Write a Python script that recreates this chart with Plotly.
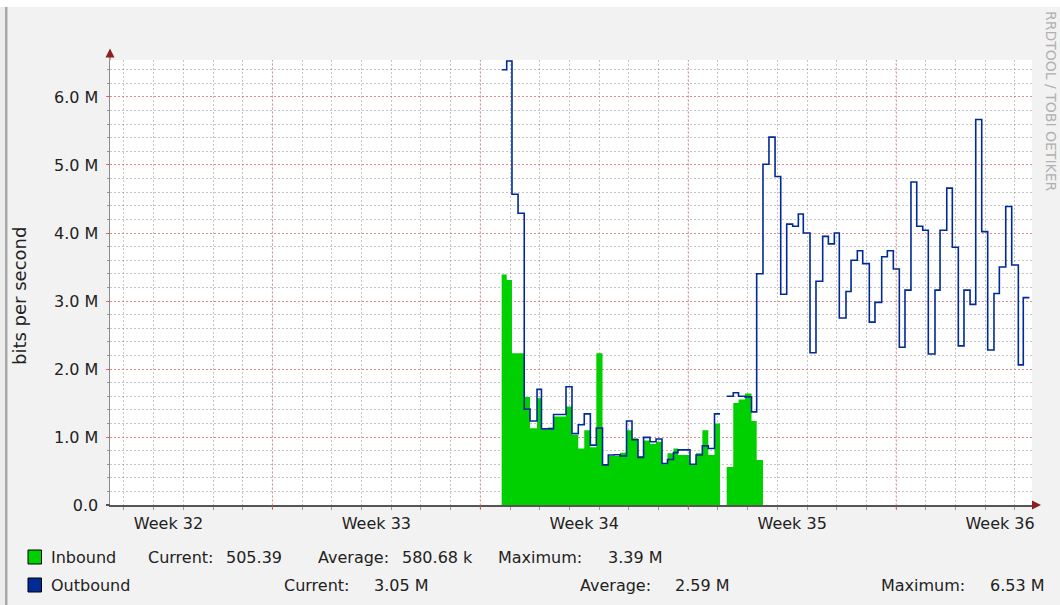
import plotly.graph_objects as go

# ---------------- data ----------------
times = [
    "2013-08-19 17:15", "2013-08-19 21:20",
    "2013-08-20 01:35", "2013-08-20 06:30", "2013-08-20 11:30", "2013-08-20 16:10", "2013-08-20 21:50",
    "2013-08-21 01:25", "2013-08-21 06:40", "2013-08-21 11:10", "2013-08-21 16:25", "2013-08-21 21:15",
    "2013-08-22 02:05", "2013-08-22 07:10", "2013-08-22 12:00", "2013-08-22 16:55", "2013-08-22 21:45",
    "2013-08-23 02:45", "2013-08-23 07:25", "2013-08-23 12:15", "2013-08-23 16:55", "2013-08-23 22:10",
    "2013-08-24 02:35", "2013-08-24 07:25", "2013-08-24 11:55", "2013-08-24 17:10", "2013-08-24 22:00",
    "2013-08-25 02:50", "2013-08-25 07:15", "2013-08-25 12:05", "2013-08-25 15:45", "2013-08-25 20:35",
    "2013-08-26 01:25", "2013-08-26 06:20", "2013-08-26 11:25", "2013-08-26 16:15", "2013-08-26 21:15",
    "2013-08-27 01:40", "2013-08-27 04:05", "2013-08-27 07:05", "2013-08-27 12:25", "2013-08-27 16:40",
    "2013-08-27 21:55",
    "2013-08-28 03:10", "2013-08-28 07:20", "2013-08-28 12:25", "2013-08-28 17:15", "2013-08-28 22:10",
    "2013-08-29 02:45", "2013-08-29 07:35", "2013-08-29 12:25", "2013-08-29 17:00", "2013-08-29 21:00",
    "2013-08-30 02:25", "2013-08-30 07:15", "2013-08-30 12:40", "2013-08-30 17:15", "2013-08-30 22:05",
    "2013-08-31 02:05", "2013-08-31 07:30", "2013-08-31 11:35", "2013-08-31 16:40", "2013-08-31 21:00",
    "2013-09-01 02:20", "2013-09-01 06:55", "2013-09-01 12:20", "2013-09-01 16:55", "2013-09-01 21:45",
    "2013-09-02 02:35", "2013-09-02 07:10", "2013-09-02 12:00", "2013-09-02 16:40", "2013-09-02 21:30",
    "2013-09-03 02:00", "2013-09-03 07:25", "2013-09-03 11:30", "2013-09-03 16:55", "2013-09-03 21:25",
    "2013-09-04 02:15", "2013-09-04 06:50", "2013-09-04 11:45", "2013-09-04 16:20", "2013-09-04 21:10",
    "2013-09-05 02:00", "2013-09-05 07:05", "2013-09-05 11:25", "2013-09-05 16:35", "2013-09-05 21:25",
    "2013-09-06 02:45", "2013-09-06 06:45", "2013-09-06 11:40",
]

# bits per second, in millions
inbound_m = [
    3.39, 3.31, 2.23, 2.23, 1.59, 1.13, 1.57, 1.11, 1.14, 1.30, 1.30, 1.45, 1.03, 0.83, 1.10, 0.85,
    2.23, 0.60, 0.72, 0.72, 0.77, 1.10, 0.98, 0.72, 0.95, 0.90, 0.93, 0.60, 0.76, 0.83, 0.735, 0.735,
    0.60, 0.76, 1.10, 0.735, 1.20, 0.0, 0.0,
    0.56, 1.50, 1.55, 1.64, 1.235, 0.66, 0.0005,
    0.0005, 0.0005, 0.0005, 0.0005, 0.0005, 0.0005, 0.0005, 0.0005, 0.0005, 0.0005,
    0.0005, 0.0005, 0.0005, 0.0005, 0.0005, 0.0005, 0.0005, 0.0005, 0.0005, 0.0005,
    0.0005, 0.0005, 0.0005, 0.0005, 0.0005, 0.0005, 0.0005, 0.0005, 0.0005, 0.0005,
    0.0005, 0.0005, 0.0005, 0.0005, 0.0005, 0.0005, 0.0005, 0.0005, 0.0005, 0.0005,
    0.0005, 0.0005, 0.0005, 0.0005, 0.0005,
]

outbound_m = [
    6.40, 6.53, 4.57, 4.29, 1.41, 1.235, 1.70, 1.12, 1.12, 1.33, 1.33, 1.74, 1.05, 1.18, 1.34, 0.88,
    1.13, 0.59, 0.735, 0.74, 0.72, 1.235, 0.96, 0.70, 0.995, 0.93, 0.97, 0.61, 0.67, 0.77, 0.81, 0.81,
    0.60, 0.735, 0.87, 0.83, 1.34, 1.34, None,
    1.60, 1.65, 1.60, 1.59, 1.37, 3.40, 5.01,
    5.41, 4.83, 3.10, 4.13, 4.10, 4.28, 4.00, 2.24, 3.29, 3.95,
    3.84, 4.00, 2.75, 3.14, 3.60, 3.74, 3.55, 2.69, 2.98, 3.65,
    3.74, 3.47, 2.32, 3.16, 4.75, 4.10, 4.04, 2.22, 3.16, 4.04,
    4.66, 3.79, 2.34, 3.16, 2.95, 5.67, 4.02, 2.28, 3.11, 3.50,
    4.39, 3.53, 2.06, 3.05, 3.05,
]

week_label_dates = ["2013-08-08 12:00", "2013-08-15 12:00", "2013-08-22 12:00",
                    "2013-08-29 12:00", "2013-09-05 12:00"]
week_labels = ["Week 32", "Week 33", "Week 34", "Week 35", "Week 36"]
week_starts = ["2013-08-12", "2013-08-19", "2013-08-26", "2013-09-02"]

y_tick_vals = [0, 1, 2, 3, 4, 5, 6]
y_tick_text = ["0.0", "1.0 M", "2.0 M", "3.0 M", "4.0 M", "5.0 M", "6.0 M"]

series_names = ["Inbound", "Outbound"]
series_colors = ["#00CF00", "#002A97"]
stat_names = ["Current:", "Average:", "Maximum:"]
inbound_stats = ["505.39", "580.68 k", "3.39 M"]
outbound_stats = ["3.05 M", "2.59 M", "6.53 M"]

x_range = ["2013-08-06 12:46", "2013-09-06 13:48"]
y_range = [0, 6.544]

# ---------------- layout helpers (pixel -> paper) ----------------
W, H = 1060, 605
L, R, T, B = 110, 1032, 60, 505


def px(X):
    return (X - L) / (R - L)


def py(Y):
    return (B - Y) / (B - T)


FONT = "DejaVu Sans"
TXT = "#222222"
MINOR_GRID = "rgba(140,140,140,0.5)"
MAJOR_GRID = "rgba(255,80,80,0.5)"
ARROW = "#8C2020"

fig = go.Figure()
fig.add_trace(go.Scatter(
    x=times, y=inbound_m, name=series_names[0], mode="lines",
    line=dict(shape="hv", width=0, color=series_colors[0]),
    fill="tozeroy", fillcolor=series_colors[0], connectgaps=False,
    hoverinfo="skip",
))
fig.add_trace(go.Scatter(
    x=times, y=outbound_m, name=series_names[1], mode="lines",
    line=dict(shape="hv", width=1.6, color=series_colors[1]),
    connectgaps=False, hoverinfo="skip",
))

shapes = []
# page decoration
shapes.append(dict(type="rect", xref="paper", yref="paper", x0=px(0), x1=px(W), y0=py(0), y1=py(7),
                   fillcolor="#FFFFFF", line=dict(width=0), layer="below"))
shapes.append(dict(type="rect", xref="paper", yref="paper", x0=px(0), x1=px(5), y0=py(7), y1=py(H),
                   fillcolor="#ECECEC", line=dict(width=0), layer="below"))
shapes.append(dict(type="rect", xref="paper", yref="paper", x0=px(5), x1=px(7.5), y0=py(7), y1=py(H),
                   fillcolor="#A8A8A8", line=dict(width=0), layer="below"))
# weekly red grid lines
for ws in week_starts:
    shapes.append(dict(type="line", xref="x", yref="paper", x0=ws, x1=ws, y0=0, y1=1,
                       line=dict(color=MAJOR_GRID, width=1, dash="2px,2px"), layer="between"))
    shapes.append(dict(type="line", xref="x", yref="paper", x0=ws, x1=ws, y0=py(505), y1=py(509),
                       line=dict(color="rgba(255,60,60,0.7)", width=1)))
# axis extensions and arrows
shapes.append(dict(type="line", xref="paper", yref="paper", x0=px(110), x1=px(110), y0=py(56), y1=py(60),
                   line=dict(color="#8A8A8A", width=1.5)))
shapes.append(dict(type="line", xref="paper", yref="paper", x0=px(106), x1=px(110), y0=py(505), y1=py(505),
                   line=dict(color="#555555", width=2)))
shapes.append(dict(type="path", xref="paper", yref="paper",
                   path=f"M {px(105.5)},{py(57.5)} L {px(114.5)},{py(57.5)} L {px(110)},{py(48.5)} Z",
                   fillcolor=ARROW, line=dict(width=0)))
shapes.append(dict(type="path", xref="paper", yref="paper",
                   path=f"M {px(1032)},{py(500.5)} L {px(1032)},{py(509.5)} L {px(1041)},{py(505)} Z",
                   fillcolor=ARROW, line=dict(width=0)))
# legend colour boxes
for i, col in enumerate(series_colors):
    yc = 557 + 28 * i
    shapes.append(dict(type="rect", xref="paper", yref="paper", x0=px(28), x1=px(41.5),
                       y0=py(yc - 7), y1=py(yc + 7), fillcolor=col, line=dict(color="#000000", width=1)))

annotations = []
annotations.append(dict(text="bits per second", textangle=-90, x=px(19), y=py(296), xref="paper", yref="paper",
                        showarrow=False, font=dict(family=FONT, size=18, color=TXT),
                        xanchor="center", yanchor="middle"))
annotations.append(dict(text="RRDTOOL / TOBI OETIKER", textangle=90, x=px(1051), y=py(101),
                        xref="paper", yref="paper", showarrow=False,
                        font=dict(family=FONT, size=14, color="#B0B0B0"),
                        xanchor="center", yanchor="middle"))

legend_rows = [
    (series_names[0], inbound_stats, 557, [147, 317, 497], [225, 401, 607]),
    (series_names[1], outbound_stats, 585, [283, 579, 880], [372.5, 674, 989]),
]
for name, stats, yc, lab_x, val_x in legend_rows:
    annotations.append(dict(text=name, x=px(49), y=py(yc), xref="paper", yref="paper", showarrow=False,
                            font=dict(family=FONT, size=16, color=TXT), xanchor="left", yanchor="middle"))
    for sn, sv, lx, vx in zip(stat_names, stats, lab_x, val_x):
        annotations.append(dict(text=sn, x=px(lx - 1), y=py(yc), xref="paper", yref="paper", showarrow=False,
                                font=dict(family=FONT, size=16, color=TXT), xanchor="left", yanchor="middle"))
        annotations.append(dict(text=sv, x=px(vx - 1), y=py(yc), xref="paper", yref="paper", showarrow=False,
                                font=dict(family=FONT, size=16, color=TXT), xanchor="left", yanchor="middle"))

fig.update_layout(
    template="none",
    width=W, height=H,
    margin=dict(l=L, r=W - R, t=T, b=H - B, autoexpand=False),
    paper_bgcolor="#F2F2F2",
    plot_bgcolor="#FFFFFF",
    showlegend=False,
    shapes=shapes,
    annotations=annotations,
    font=dict(family=FONT, size=16, color=TXT),
    xaxis=dict(
        type="date", range=x_range, tickmode="array", tickvals=week_label_dates, ticktext=week_labels,
        showgrid=False, zeroline=False, ticks="", ticklabelstandoff=3,
        tickfont=dict(family=FONT, size=16, color=TXT),
        showline=True, linecolor="#555555", linewidth=2,
        minor=dict(tickmode="linear", tick0="2013-08-12", dtick=86400000, showgrid=True,
                   gridcolor=MINOR_GRID, griddash="2px,2px", gridwidth=1,
                   ticks="outside", ticklen=3, tickcolor="#9A9A9A"),
        fixedrange=True,
    ),
    yaxis=dict(
        range=y_range, tickmode="array", tickvals=y_tick_vals, ticktext=y_tick_text,
        showgrid=True, gridcolor=MAJOR_GRID, griddash="2px,2px", gridwidth=1,
        zeroline=False, ticks="outside", ticklen=3, tickcolor="rgba(255,60,60,0.7)",
        tickfont=dict(family=FONT, size=16, color=TXT), ticklabelstandoff=4,
        showline=True, linecolor="#8A8A8A", linewidth=1.5,
        minor=dict(dtick=0.2, showgrid=True, gridcolor=MINOR_GRID, griddash="2px,2px", gridwidth=1,
                   ticks="outside", ticklen=2, tickcolor="#9A9A9A"),
        fixedrange=True,
    ),
)

fig.write_html(
    "out.html",
    config={"displayModeBar": False, "staticPlot": True},
    post_script="document.body.style.margin='0px';document.body.style.overflow='hidden';",
)
